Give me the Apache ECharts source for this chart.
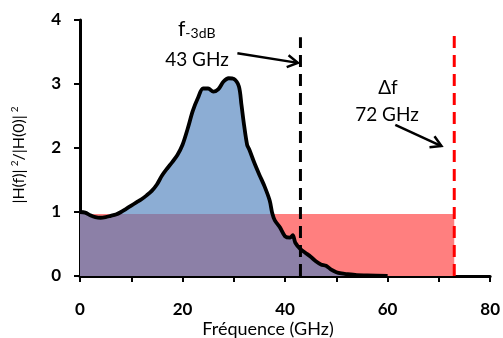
<!DOCTYPE html>
<html><head><meta charset="utf-8">
<script src="https://cdn.jsdelivr.net/npm/echarts@6/dist/echarts.min.js"></script>
<style>html,body{margin:0;padding:0;background:#fff}#c{width:503px;height:338px}</style>
</head><body><div id="c"></div>
<script>
// ---- data ----
const freqGHz = [0,1,2,3,4,5,6,7,8,9,10,11,12,13,14,15,16,17,18,19,20,21,22,23,24,25,26,27,28,29,30,31,31.5,32,32.6,33,34,35,36,37,37.5,38,39,40,41,41.5,42,43,44,45,46,47,48,49,50,51,52,54,56,60];
const gain = [1.00,0.99,0.95,0.92,0.91,0.92,0.94,0.96,1.00,1.05,1.10,1.15,1.20,1.26,1.33,1.43,1.57,1.68,1.78,1.89,2.05,2.30,2.58,2.78,2.93,2.93,2.88,2.92,3.04,3.09,3.08,2.96,2.67,2.36,2.05,1.98,1.77,1.58,1.40,1.18,0.98,0.87,0.76,0.62,0.60,0.64,0.52,0.42,0.36,0.30,0.23,0.18,0.16,0.10,0.06,0.04,0.03,0.015,0.01,0.0];
const rectX = [0, 73];
const rectLevel = 0.97;
const f3dB = 43;
const deltaF = 73;
const f3dBLineTop = 3.73;
const deltaFLineTop = 3.80;
const xTickLabels = ['0','20','40','60','80'];
const yTickLabels = ['0','1','2','3','4'];
// arrows in data coords: [fromX, fromY, toX, toY]
const arrow1 = [30.7, 3.48, 42.5, 3.33];
const arrow2 = [61.5, 2.36, 70.5, 2.03];

const chart = echarts.init(document.getElementById('c'));
const FONT = 'Lato, "Open Sans", sans-serif';

const curve = freqGHz.map((x,i)=>[x, gain[i]]);
const rect = rectX.map(x=>[x, rectLevel]);

chart.setOption({
  animation:false,
  grid:{left:80,right:11,top:20,bottom:62},
  xAxis:{type:'value',min:0,max:80,interval:10,
    axisLine:{lineStyle:{color:'#000',width:3}},
    axisTick:{length:6,lineStyle:{color:'#000',width:2}},
    splitLine:{show:false},
    axisLabel:{margin:25,fontFamily:FONT,fontWeight:'bold',fontSize:17,color:'#000',
      formatter:v=>{const s=String(v);return xTickLabels.indexOf(s)>=0?s:'';}}
  },
  yAxis:{type:'value',min:0,max:4,interval:1,
    axisLine:{show:true,lineStyle:{color:'#000',width:3}},
    axisTick:{show:true,length:6,lineStyle:{color:'#000',width:2}},
    splitLine:{show:false},
    axisLabel:{margin:19,fontFamily:FONT,fontWeight:'bold',fontSize:17,color:'#000',
      formatter:v=>{const s=String(v);return yTickLabels.indexOf(s)>=0?s:'';}}
  },
  series:[
    {type:'line',data:rect,symbol:'none',lineStyle:{width:0},
      areaStyle:{color:'#ff7f7f',opacity:1},z:1},
    {type:'line',data:curve,symbol:'none',smooth:0.3,
      lineStyle:{color:'#000',width:3.8},
      areaStyle:{color:'rgba(79,129,189,0.65)',opacity:1},z:3},
    {type:'line',data:[[f3dB,0],[f3dB,f3dBLineTop]],symbol:'none',
      lineStyle:{color:'#000',width:3,type:[12,7]},z:4},
    {type:'line',data:[[deltaF,0],[deltaF,deltaFLineTop]],symbol:'none',
      lineStyle:{color:'#ff0000',width:3,type:[12,7]},z:4}
  ]
});

function arrowGraphics(a){
  const p0 = chart.convertToPixel({gridIndex:0},[a[0],a[1]]);
  const p1 = chart.convertToPixel({gridIndex:0},[a[2],a[3]]);
  const ang = Math.atan2(p1[1]-p0[1], p1[0]-p0[0]);
  const L = 12, w = Math.PI/6;
  const h1 = [p1[0]-L*Math.cos(ang-w), p1[1]-L*Math.sin(ang-w)];
  const h2 = [p1[0]-L*Math.cos(ang+w), p1[1]-L*Math.sin(ang+w)];
  return [
    {type:'line',shape:{x1:p0[0],y1:p0[1],x2:p1[0],y2:p1[1]},style:{stroke:'#000',lineWidth:2.5},z:10},
    {type:'polyline',shape:{points:[h1,p1,h2]},style:{stroke:'#000',lineWidth:2.5,fill:null},z:10}
  ];
}

chart.setOption({graphic:[
  ...arrowGraphics(arrow1),
  ...arrowGraphics(arrow2),
  {type:'text',left:178,top:19,style:{text:'{m|f}{s|-3dB}',fontFamily:FONT,fill:'#000',
    rich:{m:{fontSize:21,fontFamily:FONT,verticalAlign:'bottom'},s:{fontSize:14,fontFamily:FONT,padding:[11,0,0,0],verticalAlign:'bottom'}}}},
  {type:'text',x:197,y:60,style:{text:'43 GHz',fontFamily:FONT,fontSize:19,fill:'#000',textAlign:'center',textVerticalAlign:'middle'}},
  {type:'text',x:388,y:88,style:{text:'Δf',fontFamily:FONT,fontSize:19,fill:'#000',textAlign:'center',textVerticalAlign:'middle'}},
  {type:'text',x:387,y:115,style:{text:'72 GHz',fontFamily:FONT,fontSize:19,fill:'#000',textAlign:'center',textVerticalAlign:'middle'}},
  {type:'text',x:268,y:329,style:{text:'Fréquence (GHz)',fontFamily:FONT,fontSize:18,fill:'#000',textAlign:'center',textVerticalAlign:'middle'}},
  {type:'text',x:19,y:155,rotation:Math.PI/2,style:{text:'{a||H(f)|} {b|2}{a|/|H(0)|} {b|2}',fontFamily:FONT,fill:'#000',textAlign:'center',textVerticalAlign:'middle',
    rich:{a:{fontSize:16,fontFamily:FONT},b:{fontSize:10,fontFamily:FONT,padding:[0,0,8,0]}}}}
]});
</script></body></html>
